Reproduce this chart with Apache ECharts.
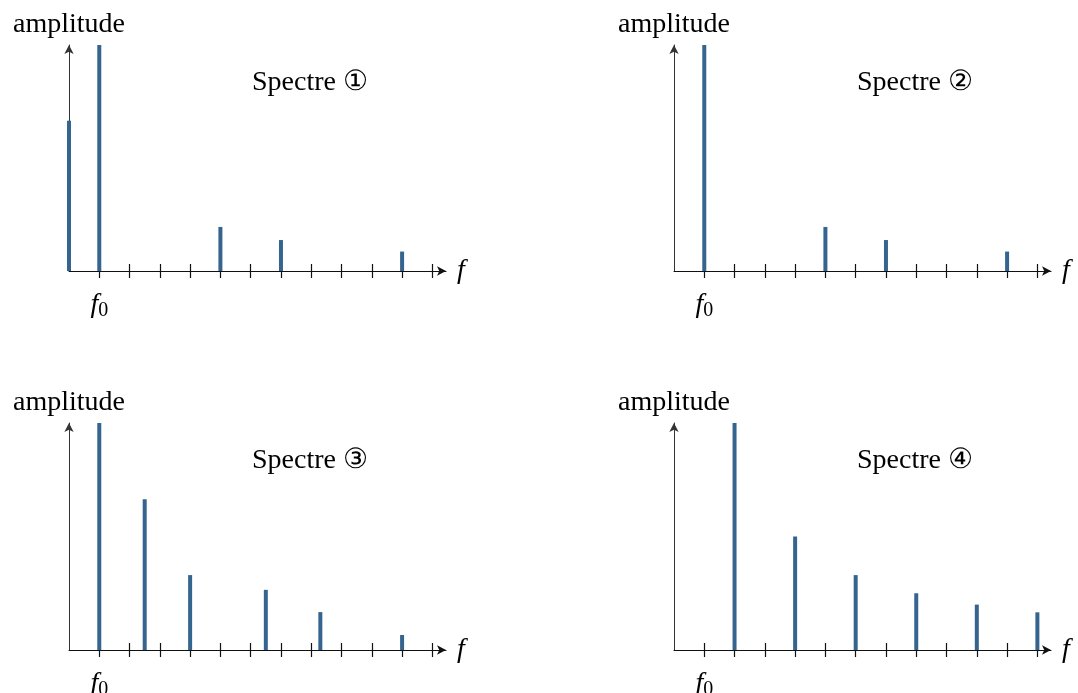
<!DOCTYPE html>
<html>
<head>
<meta charset="utf-8">
<script src="https://cdn.jsdelivr.net/npm/echarts@6/dist/echarts.min.js"></script>
<style>html,body{margin:0;padding:0;background:#fff;}#c{width:1078px;height:693px;}</style>
</head>
<body>
<div id="c"></div>
<script>
// Data: frequency (in units of f0) and relative amplitude
const titles = ['Spectre ①', 'Spectre ②', 'Spectre ③', 'Spectre ④'];
const freq1 = [0, 1, 5, 7, 11];
const amp1  = [0.665, 1, 0.195, 0.137, 0.086];
const freq2 = [1, 5, 7, 11];
const amp2  = [1, 0.195, 0.137, 0.086];
const freq3 = [1, 2.5, 4, 6.5, 8.3, 11];
const amp3  = [1, 0.664, 0.33, 0.265, 0.167, 0.066];
const freq4 = [2, 4, 6, 8, 10, 12];
const amp4  = [1, 0.5, 0.33, 0.25, 0.2, 0.166];
const tickValues = [1, 2, 3, 4, 5, 6, 7, 8, 9, 10, 11, 12];
const yName = 'amplitude';
const xName = 'f';

const spectra = [[freq1, amp1], [freq2, amp2], [freq3, amp3], [freq4, amp4]];

const FONT = '"Liberation Serif", "DejaVu Serif", serif';
const FS = 28;
const BAR = '#35658f';
const AX = '#111';

const grids = [
  {left: 69, top: 45, width: 377, height: 226},
  {left: 674, top: 45, width: 377, height: 226},
  {left: 69, top: 423, width: 377, height: 227},
  {left: 674, top: 423, width: 377, height: 227}
].map(g => Object.assign(g, {containLabel: false, outerBoundsMode: 'none'}));
const titlePos = [[310, 83], [915, 83], [310, 461], [915, 461]];

const xAxes = [], yAxes = [], series = [], graphics = [];
grids.forEach((g, i) => {
  // main x axis: line with arrow, ticks below
  xAxes.push({
    type: 'value', gridIndex: i, min: 0, max: 12.45, position: 'bottom',
    axisLine: {show: true, onZero: true, onZeroAxisIndex: i, symbol: ['none', 'arrow'], symbolSize: [7, 9],
      lineStyle: {color: AX, width: 1}},
    axisTick: {show: true, inside: false, length: 7, customValues: tickValues,
      lineStyle: {color: AX, width: 1.2}},
    axisLabel: {show: true, customValues: [1], margin: 18,
      formatter: () => '{f|f}{s|0}',
      rich: {
        f: {fontFamily: FONT, fontStyle: 'italic', fontSize: FS, color: '#000'},
        s: {fontFamily: FONT, fontSize: 20, color: '#000', verticalAlign: 'bottom', padding: [12, 0, 0, 0]}
      }},
    splitLine: {show: false},
    name: xName, nameLocation: 'end', nameGap: 11,
    nameTextStyle: {fontFamily: FONT, fontStyle: 'italic', fontSize: FS, color: '#000', align: 'left', verticalAlign: 'middle'}
  });
  // second x axis only for ticks above the line
  xAxes.push({
    type: 'value', gridIndex: i, min: 0, max: 12.45, position: 'top',
    axisLine: {show: false, onZero: true, onZeroAxisIndex: i},
    axisTick: {show: true, inside: false, length: 7, customValues: tickValues,
      lineStyle: {color: AX, width: 1.2}},
    axisLabel: {show: false},
    splitLine: {show: false}
  });
  yAxes.push({
    type: 'value', gridIndex: i, min: 0, max: 1,
    axisLine: {show: true, symbol: ['none', 'arrow'], symbolSize: [7, 9],
      lineStyle: {color: '#333', width: 1}},
    axisTick: {show: false}, axisLabel: {show: false}, splitLine: {show: false},
    name: yName, nameLocation: 'end', nameGap: 6,
    nameTextStyle: {fontFamily: FONT, fontSize: FS, color: '#000', align: 'center', verticalAlign: 'bottom'}
  });
  const [fr, am] = spectra[i];
  series.push({
    type: 'bar', xAxisIndex: i * 2, yAxisIndex: i,
    data: fr.map((f, k) => [f, am[k]]),
    barWidth: 4, clip: false, z: 5,
    itemStyle: {color: BAR},
    silent: true
  });
  graphics.push({
    type: 'text', x: titlePos[i][0], y: titlePos[i][1], z: 10,
    style: {text: titles[i], font: FS + 'px ' + FONT, fill: '#000', align: 'center', verticalAlign: 'middle'}
  });
});

const chart = echarts.init(document.getElementById('c'));
chart.setOption({
  animation: false,
  backgroundColor: '#fff',
  grid: grids,
  xAxis: xAxes,
  yAxis: yAxes,
  series: series,
  graphic: graphics
});
</script>
</body>
</html>
